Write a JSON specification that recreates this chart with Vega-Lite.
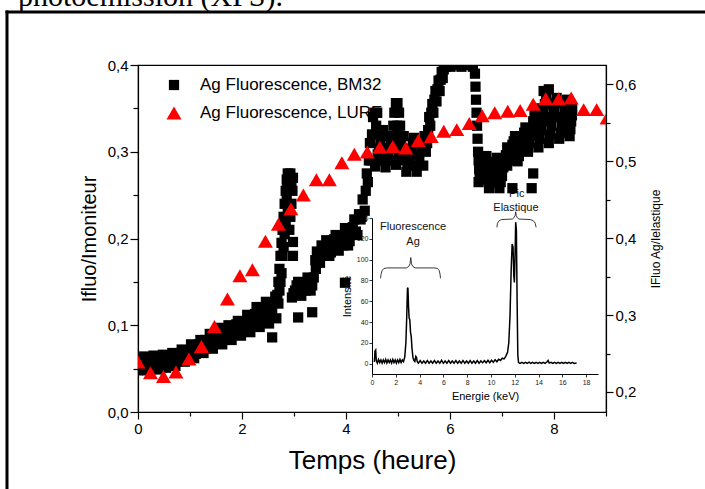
{
"$schema":"https://vega.github.io/schema/vega-lite/v6.json",
"width":468,"height":347,
"autosize":{"type":"none"},
"padding":{"left":138,"top":65,"right":99,"bottom":77},
"background":"white",
"title":{"text":"photoémission (XPS).","font":"Liberation Serif","fontSize":30,"fontWeight":"normal","color":"black","anchor":"start","frame":"group","dx":-120,"dy":2,"offset":2},
"config":{
 "font":"Liberation Sans",
 "view":{"stroke":"black","strokeWidth":1.2},
 "axis":{"grid":false,"domainColor":"black","tickColor":"black","labelColor":"black","titleColor":"black","titleFontWeight":"normal","labelFlush":false,"labelOverlap":false,"labelBound":false},
 "legend":{"orient":"none","legendX":27.5,"legendY":11.5,"labelFontSize":17,"labelColor":"black","labelOffset":17.5,"rowPadding":10,"padding":0,"symbolStrokeWidth":0,"labelLimit":400}
},
"datasets":{
 "frame":[{"fx":0,"fy":0}],
 "bm":[
{"t":0,"y":0.048},{"t":0.06,"y":0.056},{"t":0.12,"y":0.064},{"t":0.18,"y":0.048},{"t":0.24,"y":0.057},{"t":0.30,"y":0.065},{"t":0.36,"y":0.049},{"t":0.42,"y":0.057},{"t":0.48,"y":0.066},{"t":0.54,"y":0.051},{"t":0.60,"y":0.060},{"t":0.66,"y":0.068},{"t":0.72,"y":0.053},{"t":0.78,"y":0.062},{"t":0.84,"y":0.072},{"t":0.90,"y":0.058},{"t":0.96,"y":0.067},{"t":1.02,"y":0.078},{"t":1.08,"y":0.062},{"t":1.14,"y":0.071},{"t":1.20,"y":0.083},{"t":1.26,"y":0.068},{"t":1.32,"y":0.078},{"t":1.38,"y":0.090},{"t":1.44,"y":0.073},{"t":1.50,"y":0.085},{"t":1.56,"y":0.097},{"t":1.62,"y":0.078},{"t":1.68,"y":0.088},{"t":1.74,"y":0.100},{"t":1.80,"y":0.083},{"t":1.86,"y":0.094},{"t":1.92,"y":0.105},{"t":1.98,"y":0.088},{"t":2.04,"y":0.099},{"t":2.10,"y":0.112},{"t":2.16,"y":0.092},{"t":2.22,"y":0.104},{"t":2.28,"y":0.121},{"t":2.34,"y":0.098},{"t":2.40,"y":0.113},{"t":2.46,"y":0.127},{"t":2.52,"y":0.102},{"t":2.58,"y":0.118},{"t":2.64,"y":0.133},{"t":2.66,"y":0.108},{"t":2.70,"y":0.125},{"t":2.58,"y":0.086},
{"t":0.03,"y":0.052},{"t":0.09,"y":0.060},{"t":0.15,"y":0.052},{"t":0.21,"y":0.060},{"t":0.27,"y":0.053},{"t":0.33,"y":0.061},{"t":0.39,"y":0.053},{"t":0.45,"y":0.062},{"t":0.51,"y":0.054},{"t":0.57,"y":0.063},{"t":0.63,"y":0.056},{"t":0.69,"y":0.065},{"t":0.75,"y":0.058},{"t":0.81,"y":0.068},{"t":0.87,"y":0.060},{"t":0.93,"y":0.071},{"t":0.99,"y":0.064},{"t":1.05,"y":0.074},{"t":1.11,"y":0.067},{"t":1.17,"y":0.078},{"t":1.23,"y":0.071},{"t":1.29,"y":0.083},{"t":1.35,"y":0.075},{"t":1.41,"y":0.087},{"t":1.47,"y":0.079},{"t":1.53,"y":0.091},{"t":1.59,"y":0.082},{"t":1.65,"y":0.094},{"t":1.71,"y":0.086},{"t":1.77,"y":0.098},{"t":1.83,"y":0.089},{"t":1.89,"y":0.101},{"t":1.95,"y":0.092},{"t":2.01,"y":0.104},{"t":2.07,"y":0.096},{"t":2.13,"y":0.108},{"t":2.19,"y":0.099},{"t":2.25,"y":0.113},{"t":2.31,"y":0.103},{"t":2.37,"y":0.118},{"t":2.43,"y":0.106},{"t":2.49,"y":0.122},{"t":2.55,"y":0.110},{"t":2.61,"y":0.126},
{"t":2.68,"y":0.135},{"t":2.70,"y":0.150},{"t":2.72,"y":0.165},{"t":2.74,"y":0.180},{"t":2.76,"y":0.195},{"t":2.78,"y":0.210},{"t":2.80,"y":0.225},{"t":2.82,"y":0.240},{"t":2.84,"y":0.255},{"t":2.86,"y":0.268},{"t":2.88,"y":0.275},{"t":2.93,"y":0.275},{"t":2.98,"y":0.270},{"t":2.97,"y":0.255},{"t":2.95,"y":0.240},{"t":2.93,"y":0.225},{"t":2.91,"y":0.210},{"t":2.88,"y":0.230},{"t":2.86,"y":0.245},{"t":2.84,"y":0.215},{"t":2.80,"y":0.190},{"t":2.76,"y":0.160},{"t":2.98,"y":0.196},{"t":2.98,"y":0.180},{"t":3.08,"y":0.109},{"t":3.35,"y":0.115},{"t":2.90,"y":0.260},{"t":2.95,"y":0.262},{"t":2.82,"y":0.205},{"t":2.78,"y":0.180},{"t":2.74,"y":0.150},{"t":2.72,"y":0.140},{"t":2.87,"y":0.260},
{"t":2.96,"y":0.132},{"t":3.02,"y":0.140},{"t":3.08,"y":0.150},{"t":3.14,"y":0.134},{"t":3.20,"y":0.143},{"t":3.26,"y":0.155},{"t":3.32,"y":0.140},{"t":3.38,"y":0.155},{"t":3.44,"y":0.185},{"t":3.42,"y":0.165},{"t":3.50,"y":0.172},{"t":3.56,"y":0.186},{"t":3.62,"y":0.198},{"t":3.68,"y":0.180},{"t":3.74,"y":0.192},{"t":3.80,"y":0.204},{"t":3.86,"y":0.186},{"t":3.92,"y":0.198},{"t":3.98,"y":0.212},{"t":4.04,"y":0.192},{"t":4.10,"y":0.206},{"t":4.16,"y":0.222},{"t":4.22,"y":0.204},{"t":4.28,"y":0.222},{"t":4.32,"y":0.245},{"t":4.36,"y":0.232},{"t":4.38,"y":0.255},{"t":4.40,"y":0.275},{"t":4.42,"y":0.265},{"t":4.44,"y":0.290},{"t":4.46,"y":0.310},{"t":4.48,"y":0.290},{"t":4.50,"y":0.320},{"t":4.52,"y":0.340},{"t":3.98,"y":0.149},
{"t":2.99,"y":0.137},{"t":3.05,"y":0.146},{"t":3.11,"y":0.138},{"t":3.17,"y":0.148},{"t":3.23,"y":0.140},{"t":3.29,"y":0.152},{"t":3.35,"y":0.146},{"t":3.41,"y":0.175},{"t":3.47,"y":0.178},{"t":3.53,"y":0.192},{"t":3.59,"y":0.180},{"t":3.65,"y":0.196},{"t":3.71,"y":0.184},{"t":3.77,"y":0.199},{"t":3.83,"y":0.188},{"t":3.89,"y":0.203},{"t":3.95,"y":0.192},{"t":4.01,"y":0.206},{"t":4.07,"y":0.197},{"t":4.13,"y":0.213},{"t":4.19,"y":0.208},{"t":4.25,"y":0.228},{"t":4.30,"y":0.225},
{"t":4.55,"y":0.345},{"t":4.58,"y":0.330},{"t":4.60,"y":0.345},{"t":4.56,"y":0.283},{"t":4.61,"y":0.297},{"t":4.66,"y":0.311},{"t":4.71,"y":0.325},{"t":4.76,"y":0.282},{"t":4.81,"y":0.296},{"t":4.86,"y":0.310},{"t":4.91,"y":0.330},{"t":4.93,"y":0.345},{"t":4.96,"y":0.356},{"t":4.99,"y":0.356},{"t":5.02,"y":0.345},{"t":5.04,"y":0.330},{"t":4.95,"y":0.318},{"t":5.00,"y":0.310},{"t":4.96,"y":0.285},{"t":5.01,"y":0.298},{"t":5.06,"y":0.310},{"t":5.11,"y":0.318},{"t":5.16,"y":0.277},{"t":5.21,"y":0.290},{"t":5.26,"y":0.303},{"t":5.31,"y":0.316},{"t":5.36,"y":0.277},{"t":5.41,"y":0.290},{"t":5.46,"y":0.303},{"t":5.51,"y":0.318},
{"t":4.585,"y":0.290},{"t":4.635,"y":0.304},{"t":4.685,"y":0.318},{"t":4.735,"y":0.290},{"t":4.785,"y":0.304},{"t":4.835,"y":0.318},{"t":4.885,"y":0.290},{"t":4.935,"y":0.304},{"t":4.985,"y":0.330},{"t":5.035,"y":0.290},{"t":5.085,"y":0.304},{"t":5.135,"y":0.297},{"t":5.185,"y":0.284},{"t":5.235,"y":0.297},{"t":5.285,"y":0.310},{"t":5.335,"y":0.284},{"t":5.385,"y":0.297},{"t":5.435,"y":0.310},{"t":5.485,"y":0.284},{"t":5.535,"y":0.300},
{"t":5.56,"y":0.310},{"t":5.58,"y":0.325},{"t":5.60,"y":0.340},{"t":5.62,"y":0.330},{"t":5.64,"y":0.345},{"t":5.66,"y":0.355},{"t":5.68,"y":0.345},{"t":5.70,"y":0.360},{"t":5.72,"y":0.370},{"t":5.74,"y":0.358},{"t":5.76,"y":0.372},{"t":5.78,"y":0.382},{"t":5.80,"y":0.370},{"t":5.82,"y":0.383},{"t":5.84,"y":0.392},{"t":5.86,"y":0.385},{"t":5.88,"y":0.395},{"t":5.92,"y":0.398},{"t":5.98,"y":0.405},{"t":6.04,"y":0.400},{"t":6.10,"y":0.410},{"t":6.16,"y":0.405},{"t":6.22,"y":0.398},{"t":6.28,"y":0.402},{"t":6.34,"y":0.410},{"t":6.40,"y":0.405},{"t":6.44,"y":0.398},
{"t":5.95,"y":0.400},{"t":6.01,"y":0.398},{"t":6.07,"y":0.405},{"t":6.13,"y":0.400},{"t":6.19,"y":0.402},{"t":6.25,"y":0.400},{"t":6.31,"y":0.405},{"t":6.37,"y":0.400},{"t":6.43,"y":0.405},
{"t":6.48,"y":0.390},{"t":6.49,"y":0.375},{"t":6.50,"y":0.360},{"t":6.51,"y":0.345},{"t":6.52,"y":0.330},{"t":6.53,"y":0.315},{"t":6.54,"y":0.300},{"t":6.55,"y":0.290},{"t":6.56,"y":0.280},{"t":6.57,"y":0.270},
{"t":6.55,"y":0.265},{"t":6.60,"y":0.276},{"t":6.65,"y":0.287},{"t":6.70,"y":0.295},{"t":6.75,"y":0.258},{"t":6.80,"y":0.270},{"t":6.85,"y":0.282},{"t":6.90,"y":0.293},{"t":6.95,"y":0.258},{"t":7.00,"y":0.272},{"t":7.05,"y":0.288},{"t":7.10,"y":0.305},{"t":7.20,"y":0.258},{"t":7.60,"y":0.275},{"t":7.57,"y":0.258},
{"t":6.575,"y":0.282},{"t":6.625,"y":0.268},{"t":6.675,"y":0.291},{"t":6.725,"y":0.276},{"t":6.775,"y":0.264},{"t":6.825,"y":0.288},{"t":6.875,"y":0.270},{"t":6.925,"y":0.276},{"t":6.975,"y":0.265},{"t":7.025,"y":0.282},{"t":7.075,"y":0.296},
{"t":7.10,"y":0.284},{"t":7.15,"y":0.296},{"t":7.20,"y":0.308},{"t":7.25,"y":0.318},{"t":7.30,"y":0.289},{"t":7.35,"y":0.302},{"t":7.40,"y":0.315},{"t":7.45,"y":0.328},{"t":7.50,"y":0.300},{"t":7.55,"y":0.318},{"t":7.60,"y":0.335},{"t":7.65,"y":0.350},
{"t":7.125,"y":0.290},{"t":7.175,"y":0.302},{"t":7.225,"y":0.312},{"t":7.275,"y":0.300},{"t":7.325,"y":0.295},{"t":7.375,"y":0.309},{"t":7.425,"y":0.322},{"t":7.475,"y":0.315},{"t":7.525,"y":0.310},{"t":7.575,"y":0.326},{"t":7.625,"y":0.342},
{"t":7.70,"y":0.305},{"t":7.75,"y":0.325},{"t":7.80,"y":0.345},{"t":7.85,"y":0.365},{"t":7.90,"y":0.310},{"t":7.95,"y":0.330},{"t":8.00,"y":0.350},{"t":8.05,"y":0.362},{"t":8.10,"y":0.315},{"t":8.15,"y":0.330},{"t":8.20,"y":0.347},{"t":8.25,"y":0.360},{"t":8.30,"y":0.318},{"t":8.33,"y":0.335},{"t":8.35,"y":0.350},{"t":7.80,"y":0.370},{"t":7.90,"y":0.372},
{"t":7.725,"y":0.315},{"t":7.775,"y":0.335},{"t":7.825,"y":0.355},{"t":7.875,"y":0.340},{"t":7.925,"y":0.320},{"t":7.975,"y":0.340},{"t":8.025,"y":0.356},{"t":8.075,"y":0.340},{"t":8.125,"y":0.322},{"t":8.175,"y":0.338},{"t":8.225,"y":0.354},{"t":8.275,"y":0.340},{"t":8.315,"y":0.326},{"t":8.345,"y":0.342}
 ],
 "lure":[
{"t":0.00,"v":0.239},{"t":0.24,"v":0.225},{"t":0.49,"v":0.220},{"t":0.73,"v":0.226},{"t":0.98,"v":0.243},{"t":1.22,"v":0.259},{"t":1.47,"v":0.285},{"t":1.72,"v":0.321},{"t":1.96,"v":0.351},{"t":2.20,"v":0.359},{"t":2.45,"v":0.396},{"t":2.70,"v":0.418},{"t":2.94,"v":0.438},{"t":3.18,"v":0.456},{"t":3.43,"v":0.476},{"t":3.68,"v":0.476},{"t":3.92,"v":0.498},{"t":4.16,"v":0.509},{"t":4.41,"v":0.512},{"t":4.65,"v":0.518},{"t":4.90,"v":0.519},{"t":5.15,"v":0.517},{"t":5.39,"v":0.527},{"t":5.64,"v":0.532},{"t":5.88,"v":0.539},{"t":6.13,"v":0.541},{"t":6.37,"v":0.549},{"t":6.62,"v":0.559},{"t":6.86,"v":0.563},{"t":7.11,"v":0.565},{"t":7.35,"v":0.566},{"t":7.60,"v":0.574},{"t":7.84,"v":0.581},{"t":8.09,"v":0.581},{"t":8.33,"v":0.582},{"t":8.57,"v":0.567},{"t":8.82,"v":0.567},{"t":9.02,"v":0.556}
 ],
 "spec":[
{"E":0.20,"I":1.5},{"E":0.25,"I":12},{"E":0.31,"I":13},{"E":0.36,"I":3},{"E":0.45,"I":0.5},{"E":0.55,"I":4.0},{"E":0.65,"I":1.0},{"E":0.75,"I":3.5},{"E":0.85,"I":0.5},{"E":0.95,"I":3.5},{"E":1.05,"I":1.0},{"E":1.15,"I":4.0},{"E":1.25,"I":0.5},{"E":1.35,"I":3.5},{"E":1.45,"I":1.0},{"E":1.55,"I":3.5},{"E":1.65,"I":0.5},{"E":1.75,"I":4.0},{"E":1.85,"I":1.0},{"E":1.95,"I":3.5},{"E":2.05,"I":0.5},{"E":2.15,"I":3.5},{"E":2.25,"I":1.0},{"E":2.35,"I":4.0},{"E":2.45,"I":1.0},{"E":2.55,"I":3.5},{"E":2.65,"I":2.0},{"E":2.75,"I":6},{"E":2.85,"I":20},{"E":2.92,"I":45},{"E":2.98,"I":72},{"E":3.02,"I":73},{"E":3.07,"I":55},{"E":3.12,"I":44},{"E":3.18,"I":42},{"E":3.24,"I":30},{"E":3.30,"I":26},{"E":3.36,"I":15},{"E":3.44,"I":6},{"E":3.52,"I":3},{"E":3.60,"I":2},{"E":3.68,"I":7},{"E":3.74,"I":6},{"E":3.80,"I":2},
{"E":3.90,"I":0.3},{"E":4.05,"I":2.8},{"E":4.20,"I":0.3},{"E":4.35,"I":2.5},{"E":4.50,"I":0.3},{"E":4.65,"I":2.8},{"E":4.80,"I":0.3},{"E":4.95,"I":2.5},{"E":5.10,"I":0.3},{"E":5.25,"I":2.8},{"E":5.40,"I":0.3},{"E":5.55,"I":2.5},{"E":5.70,"I":0.3},{"E":5.85,"I":3.2},{"E":6.00,"I":0.3},{"E":6.15,"I":2.5},{"E":6.30,"I":0.3},{"E":6.45,"I":2.8},{"E":6.60,"I":0.3},{"E":6.75,"I":2.5},{"E":6.90,"I":0.3},{"E":7.05,"I":2.8},{"E":7.20,"I":0.3},{"E":7.35,"I":2.5},{"E":7.50,"I":0.3},{"E":7.65,"I":2.8},{"E":7.80,"I":0.3},{"E":7.95,"I":2.5},{"E":8.10,"I":0.3},{"E":8.25,"I":2.8},{"E":8.40,"I":0.3},{"E":8.55,"I":2.5},{"E":8.70,"I":0.3},{"E":8.85,"I":2.8},{"E":9.00,"I":0.3},{"E":9.15,"I":2.5},{"E":9.30,"I":0.8},{"E":9.45,"I":2.8},{"E":9.60,"I":0.8},{"E":9.75,"I":3.2},{"E":9.90,"I":0.8},{"E":10.05,"I":3.2},{"E":10.20,"I":1.2},{"E":10.35,"I":3.8},{"E":10.50,"I":1.8},{"E":10.65,"I":4.2},{"E":10.80,"I":3.0},{"E":10.95,"I":5.2},{"E":11.10,"I":4.5},{"E":11.25,"I":7},{"E":11.40,"I":11},{"E":11.50,"I":20},{"E":11.60,"I":45},{"E":11.70,"I":90},{"E":11.78,"I":115},{"E":11.86,"I":112},{"E":11.92,"I":85},{"E":11.97,"I":78},{"E":12.02,"I":100},{"E":12.08,"I":136},{"E":12.14,"I":128},{"E":12.20,"I":60},{"E":12.26,"I":8},{"E":12.32,"I":1},{"E":12.45,"I":0.2},{"E":12.60,"I":1.2},{"E":12.75,"I":0.2},{"E":12.90,"I":1.2},{"E":13.05,"I":0.2},{"E":13.20,"I":1.4},{"E":13.35,"I":0.2},{"E":13.50,"I":1.2},{"E":13.65,"I":0.2},{"E":13.80,"I":1.2},{"E":13.95,"I":0.2},{"E":14.10,"I":1.2},{"E":14.25,"I":0.2},{"E":14.40,"I":1.2},{"E":14.55,"I":0.2},{"E":14.70,"I":1.5},{"E":14.80,"I":3.0},{"E":14.90,"I":0.5},{"E":15.05,"I":1.2},{"E":15.20,"I":0.2},{"E":15.35,"I":1.2},{"E":15.50,"I":0.2},{"E":15.65,"I":1.2},{"E":15.80,"I":0.2},{"E":15.95,"I":1.2},{"E":16.10,"I":0.2},{"E":16.25,"I":1.2},{"E":16.40,"I":0.2},{"E":16.55,"I":1.2},{"E":16.70,"I":0.2},{"E":16.85,"I":1.2},{"E":17.00,"I":0.2},{"E":17.20,"I":0.5}
 ],
 "brace":[
{"g":"a","E":0.72,"I":82},{"g":"a","E":0.76,"I":86},{"g":"a","E":0.85,"I":89.5},{"g":"a","E":1.0,"I":91.5},{"g":"a","E":1.3,"I":92},{"g":"a","E":2.9,"I":92},{"g":"a","E":3.1,"I":93.5},{"g":"a","E":3.2,"I":96},{"g":"a","E":3.26,"I":102},{"g":"a","E":3.32,"I":96},{"g":"a","E":3.42,"I":93.5},{"g":"a","E":3.62,"I":92},{"g":"a","E":5.2,"I":92},{"g":"a","E":5.5,"I":91.5},{"g":"a","E":5.65,"I":89.5},{"g":"a","E":5.72,"I":86},{"g":"a","E":5.76,"I":82},
{"g":"b","E":10.5,"I":131},{"g":"b","E":10.55,"I":135},{"g":"b","E":10.7,"I":137.5},{"g":"b","E":10.9,"I":138.5},{"g":"b","E":11.8,"I":139},{"g":"b","E":11.95,"I":140.5},{"g":"b","E":12.04,"I":142.5},{"g":"b","E":12.08,"I":146},{"g":"b","E":12.12,"I":142.5},{"g":"b","E":12.2,"I":140.5},{"g":"b","E":12.35,"I":139},{"g":"b","E":13.3,"I":138.5},{"g":"b","E":13.55,"I":137.5},{"g":"b","E":13.72,"I":135},{"g":"b","E":13.8,"I":131}
 ],
 "notes":[
{"E":3.45,"I":131,"txt":"Fluorescence"},{"E":3.45,"I":117,"txt":"Ag"},{"E":12.17,"I":163,"txt":"Pic"},{"E":12.1,"I":150,"txt":"Elastique"}
 ]
},
"resolve":{"scale":{"x":"independent","y":"independent"}},
"layer":[
 {
  "data":{"name":"frame"},
  "mark":{"type":"point","opacity":0},
  "encoding":{
   "x":{"field":"fx","type":"quantitative","scale":{"domain":[0,1],"range":[-133,600],"nice":false,"zero":false},"axis":{"orient":"top","offset":53.5,"ticks":false,"labels":false,"title":null,"domainWidth":3,"domainColor":"black"}},
   "y":{"field":"fy","type":"quantitative","scale":{"domain":[0,1],"range":[600,-55],"nice":false,"zero":false},"axis":{"orient":"left","offset":131.5,"ticks":false,"labels":false,"title":null,"domainWidth":3,"domainColor":"black"}}
  }
 },
 {
  "layer":[
   {
    "data":{"name":"spec"},
    "mark":{"type":"line","color":"black","strokeWidth":1.5},
    "encoding":{
     "x":{"field":"E","type":"quantitative","scale":{"domain":[0,19],"range":[234,460],"nice":false,"zero":false},
      "axis":{"orient":"bottom","offset":-38,"values":[0,1,2,3,4,5,6,7,8,9,10,11,12,13,14,15,16,17,18],"labelExpr":"datum.value % 2 == 0 ? datum.label : ''","tickSize":{"condition":{"test":"datum.value % 2 == 0","value":3},"value":2},"tickWidth":0.8,"domainWidth":1,"labelFontSize":7,"labelPadding":1,"labelColor":"#222222","title":"Energie (keV)","titleFontSize":11,"titlePadding":5}},
     "y":{"field":"I","type":"quantitative","scale":{"domain":[-10,140],"range":[309,153],"nice":false,"zero":false},
      "axis":{"orient":"left","offset":-234,"values":[0,10,20,30,40,50,60,70,80,90,100,110,120,130,140],"labelExpr":"datum.value % 20 == 0 ? datum.label : ''","tickSize":{"condition":{"test":"datum.value % 20 == 0","value":3},"value":2},"tickWidth":0.8,"domainWidth":1,"labelFontSize":7,"labelPadding":1,"labelColor":"#222222","title":"Intensité","titleFontSize":11,"titlePadding":4}}
    }
   },
   {
    "data":{"name":"brace"},
    "mark":{"type":"line","color":"#222222","strokeWidth":0.9},
    "encoding":{"x":{"field":"E","type":"quantitative"},"y":{"field":"I","type":"quantitative"},"detail":{"field":"g"}}
   },
   {
    "data":{"name":"notes"},
    "mark":{"type":"text","fontSize":11,"color":"#111111"},
    "encoding":{"x":{"field":"E","type":"quantitative"},"y":{"field":"I","type":"quantitative"},"text":{"field":"txt"}}
   }
  ]
 },
 {
  "resolve":{"scale":{"y":"independent"}},
  "layer":[
   {
    "data":{"name":"bm"},
    "mark":{"type":"point","filled":true,"opacity":1,"clip":true,"strokeWidth":0},
    "encoding":{
     "x":{"field":"t","type":"quantitative","scale":{"domain":[0,9],"nice":false,"zero":false},
      "axis":{"orient":"bottom","values":[0,1,2,3,4,5,6,7,8,9],"labelExpr":"datum.value % 2 == 0 ? datum.label : ''","tickSize":{"condition":{"test":"datum.value % 2 == 0","value":7},"value":4},"tickWidth":1.2,"domainWidth":1.2,"labelFontSize":15,"labelPadding":2,"title":"Temps (heure)","titleFontSize":26,"titlePadding":11}},
     "y":{"field":"y","type":"quantitative","scale":{"domain":[0,0.4],"nice":false,"zero":false},
      "axis":{"orient":"left","values":[0,0.05,0.1,0.15,0.2,0.25,0.3,0.35,0.4],"labelExpr":"round(datum.value*20) % 2 == 0 ? replace(format(datum.value,'.1f'),'.',',') : ''","tickSize":{"condition":{"test":"round(datum.value*20) % 2 == 0","value":8},"value":5},"tickWidth":1.2,"domainWidth":1.2,"labelFontSize":15,"labelPadding":2,"title":"Ifluo/Imoniteur","titleFontSize":20,"titlePadding":8}},
     "color":{"datum":"Ag Fluorescence, BM32","type":"nominal","scale":{"domain":["Ag Fluorescence, BM32","Ag Fluorescence, LURE"],"range":["#000000","#ff0000"]},"legend":{"title":null}},
     "shape":{"datum":"Ag Fluorescence, BM32","type":"nominal","scale":{"domain":["Ag Fluorescence, BM32","Ag Fluorescence, LURE"],"range":["square","triangle-up"]},"legend":{"title":null}},
     "size":{"datum":"Ag Fluorescence, BM32","type":"nominal","scale":{"domain":["Ag Fluorescence, BM32","Ag Fluorescence, LURE"],"range":[105,225]},"legend":{"title":null}}
    }
   },
   {
    "data":{"name":"lure"},
    "mark":{"type":"point","filled":true,"opacity":1,"clip":true,"strokeWidth":0},
    "encoding":{
     "x":{"field":"t","type":"quantitative"},
     "y":{"field":"v","type":"quantitative","scale":{"domain":[0.174,0.625],"nice":false,"zero":false},
      "axis":{"orient":"right","values":[0.2,0.25,0.3,0.35,0.4,0.45,0.5,0.55,0.6],"labelExpr":"round(datum.value*20) % 2 == 0 ? replace(format(datum.value,'.1f'),'.',',') : ''","tickSize":{"condition":{"test":"round(datum.value*20) % 2 == 0","value":7},"value":4},"tickWidth":1.2,"domainWidth":1.2,"labelFontSize":15,"labelPadding":2,"title":"IFluo Ag/Ielastique","titleFontSize":12,"titleAngle":270,"titlePadding":27}},
     "color":{"datum":"Ag Fluorescence, LURE","type":"nominal","legend":{"title":null}},
     "shape":{"datum":"Ag Fluorescence, LURE","type":"nominal","legend":{"title":null}},
     "size":{"datum":"Ag Fluorescence, LURE","type":"nominal","legend":{"title":null}}
    }
   }
  ]
 }
]
}
